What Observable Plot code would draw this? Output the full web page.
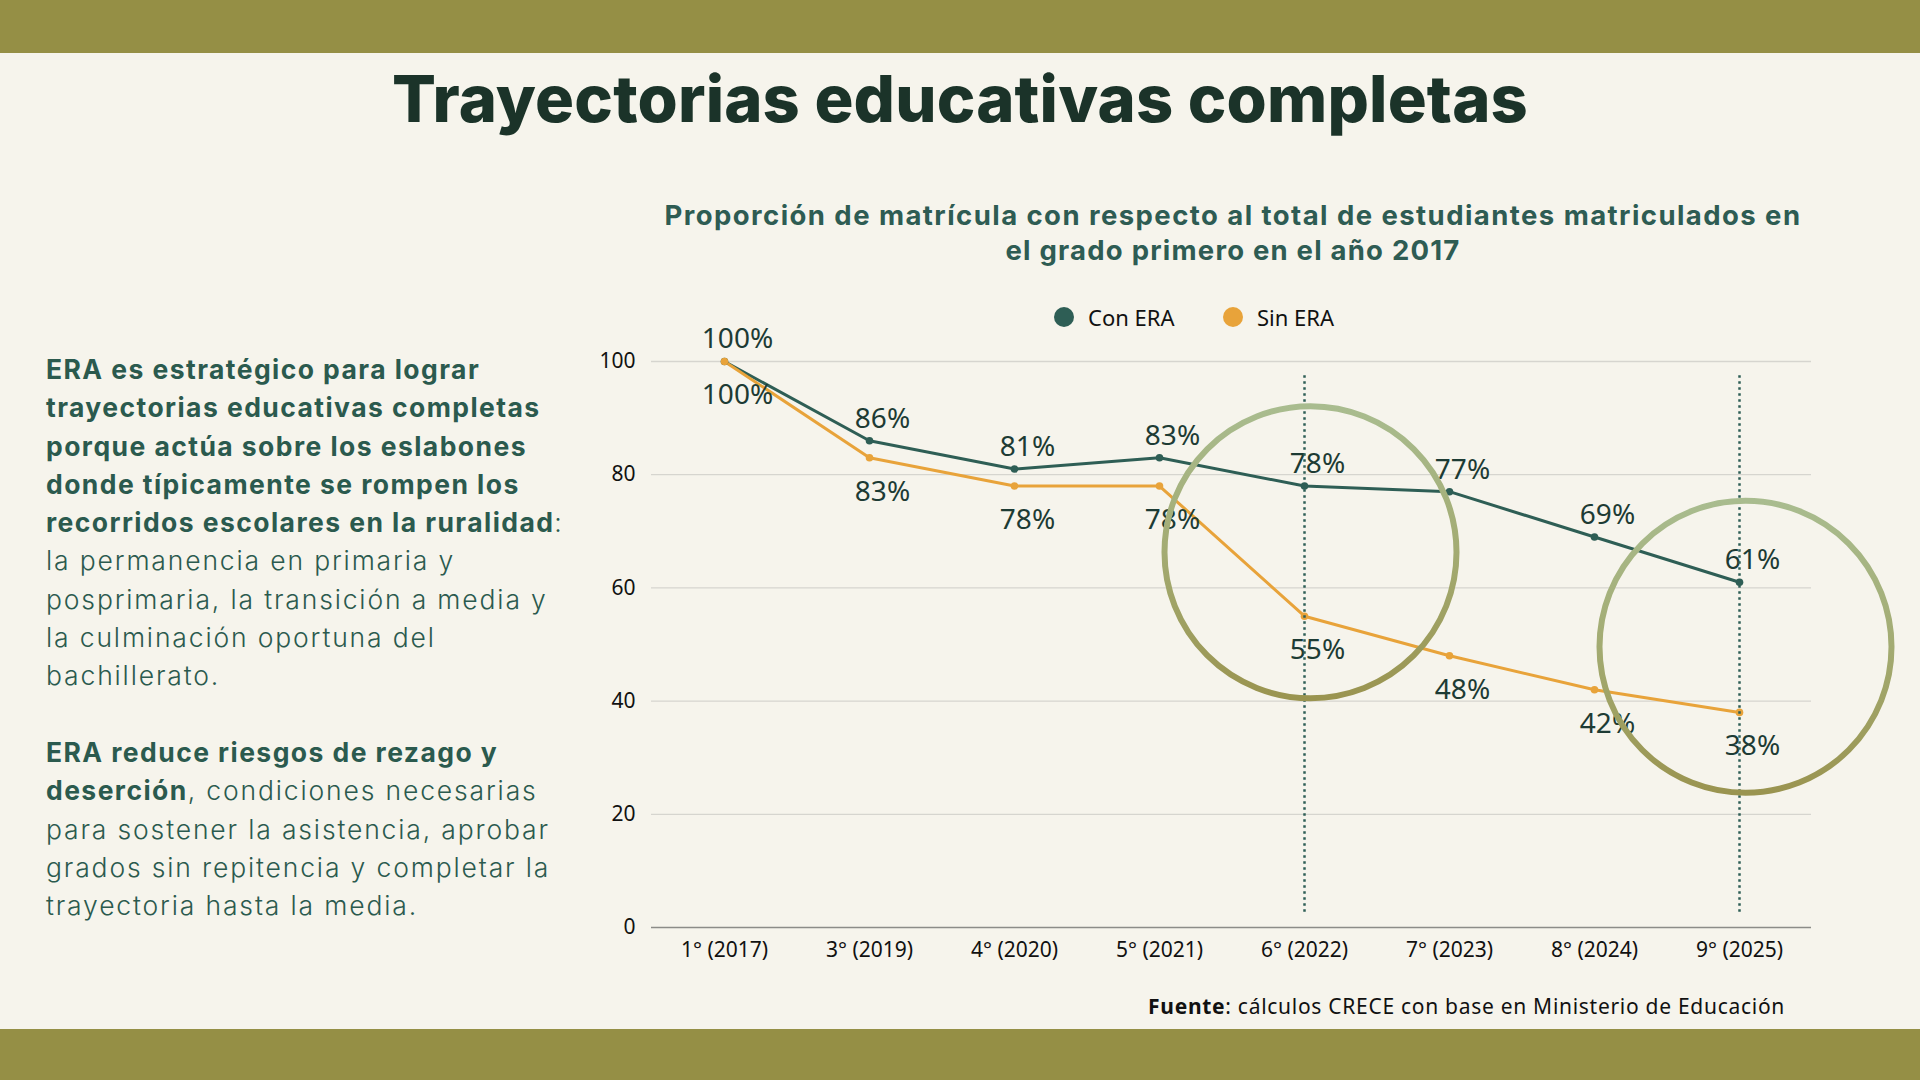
<!DOCTYPE html>
<html lang="es">
<head>
<meta charset="utf-8">
<script src="https://cdn.jsdelivr.net/npm/d3@7"></script>
<script src="https://cdn.jsdelivr.net/npm/@observablehq/plot@0.6"></script>
<style>
  html, body { margin: 0; padding: 0; }
  body { width: 1920px; height: 1080px; background: #f6f4ec; position: relative; overflow: hidden; font-family: "Noto Sans", sans-serif; }
  .band { position: absolute; left: 0; width: 1920px; background: #958f45; }
  #title { position: absolute; left: 0; width: 1920px; top: 66px; text-align: center; font-family: Inter, sans-serif; font-weight: 800; font-size: 65px; line-height: 66px; color: #1b3329; white-space: nowrap; }
  #title span, .sub span { display: inline-block; }
  .sub { position: absolute; left: 0; width: 2466px; text-align: center; font-family: Inter, sans-serif; font-weight: 700; font-size: 27.5px; line-height: 35px; color: #2e5c53; white-space: nowrap; }
  #left { position: absolute; left: 46px; top: 350px; font-family: Inter, sans-serif; font-size: 26.5px; line-height: 38.3px; color: #2b5a4e; white-space: nowrap; }
  #left b { font-weight: 700; }
  #left .r { font-weight: 300; }
  #legend { position: absolute; top: 302px; left: 0; height: 30px; width: 1920px; }
  .lg { position: absolute; top: 0; height: 30px; display: flex; align-items: center; font-size: 22px; color: #111; }
  .lg i { display: inline-block; width: 20px; height: 20px; border-radius: 50%; margin-right: 14px; }
  #chart { position: absolute; left: 560px; top: 290px; }
  #chart svg { overflow: visible; }
  #foot { position: absolute; right: 135px; top: 996px; font-size: 21px; line-height: 21px; color: #111; white-space: nowrap; }
  #foot span { display: inline-block; }
</style>
</head>
<body>
<div class="band" style="top:0;height:53px"></div>
<div class="band" style="top:1029px;height:51px"></div>
<div id="title"><span data-fit="1136">Trayectorias educativas completas</span></div>
<div class="sub" style="top:198px"><span data-fit="1137">Proporción de matrícula con respecto al total de estudiantes matriculados en</span></div>
<div class="sub" style="top:233px"><span data-fit="455">el grado primero en el año 2017</span></div>
<div id="left"></div>
<div id="legend"></div>
<div id="chart"></div>
<div id="foot"><span data-fit="637"><b>Fuente</b>: cálculos CRECE con base en Ministerio de Educación</span></div>

<script>
// ---- Data ----
const categories = ["1° (2017)", "3° (2019)", "4° (2020)", "5° (2021)", "6° (2022)", "7° (2023)", "8° (2024)", "9° (2025)"];
const conERA = [100, 86, 81, 83, 78, 77, 69, 61];
const sinERA = [100, 83, 78, 78, 55, 48, 42, 38];
const seriesNames = ["Con ERA", "Sin ERA"];
const seriesColors = ["#2e5e55", "#e8a33a"];
const yTicks = [0, 20, 40, 60, 80, 100];
const highlightCategories = ["6° (2022)", "9° (2025)"];
const highlightRuleTop = [97.5, 97.5];
const highlightRuleBottom = [2.7, 2.7];
const highlightCircleCenter = [66.3, 49.6];

const leftLines = [
  ["ERA es estratégico para lograr", ""],
  ["trayectorias educativas completas", ""],
  ["porque actúa sobre los eslabones", ""],
  ["donde típicamente se rompen los", ""],
  ["recorridos escolares en la ruralidad", ":"],
  ["", "la permanencia en primaria y"],
  ["", "posprimaria, la transición a media y"],
  ["", "la culminación oportuna del"],
  ["", "bachillerato."],
  ["", ""],
  ["ERA reduce riesgos de rezago y", ""],
  ["deserción", ", condiciones necesarias"],
  ["", "para sostener la asistencia, aprobar"],
  ["", "grados sin repitencia y completar la"],
  ["", "trayectoria hasta la media."]
];

// ---- Left text ----
const left = document.getElementById("left");
leftLines.forEach(([b, r], i) => {
  const line = document.createElement("div");
  line.style.height = "38.3px";
  if (b) { const el = document.createElement("b"); el.textContent = b; line.appendChild(el); if (i === 1) el.id = "boldSample"; }
  if (r) { const el = document.createElement("span"); el.className = "r"; el.textContent = r; line.appendChild(el); if (i === 5) el.id = "regSample"; }
  if (!b && !r) line.innerHTML = "&nbsp;";
  left.appendChild(line);
});

// ---- Legend ----
const legend = document.getElementById("legend");
const legendX = [1054, 1223];
seriesNames.forEach((name, i) => {
  const d = document.createElement("div");
  d.className = "lg";
  d.style.left = legendX[i] + "px";
  d.innerHTML = `<i style="background:${seriesColors[i]}"></i>${name}`;
  legend.appendChild(d);
});

// ---- Chart ----
const rows = categories.flatMap((c, i) => [
  {cat: c, series: seriesNames[0], value: conERA[i]},
  {cat: c, series: seriesNames[1], value: sinERA[i]}
]);
const conRows = rows.filter(d => d.series === seriesNames[0]);
const sinRows = rows.filter(d => d.series === seriesNames[1]);
const highlights = highlightCategories.map((c, i) => ({cat: c, top: highlightRuleTop[i], bottom: highlightRuleBottom[i], center: highlightCircleCenter[i]}));

const defs = () => {
  const g = document.createElementNS("http://www.w3.org/2000/svg", "defs");
  g.innerHTML = `<linearGradient id="ringGrad" x1="0" y1="0" x2="0" y2="1">
    <stop offset="0" stop-color="#a9bc8f"/><stop offset="0.5" stop-color="#a3ab72"/><stop offset="1" stop-color="#9a9450"/></linearGradient>`;
  return g;
};

const chart = Plot.plot({
  width: 1360,
  height: 687,
  marginLeft: 91,
  marginRight: 109,
  marginTop: 71,
  marginBottom: 50,
  style: {background: "transparent", fontFamily: "'Noto Sans', sans-serif", fontSize: "21px", color: "#111"},
  x: {type: "point", domain: categories, padding: 0.5, label: null, tickSize: 0, tickPadding: 15},
  y: {domain: [0, 100], ticks: yTicks, label: null, tickSize: 0, tickPadding: 16},
  color: {domain: seriesNames, range: seriesColors},
  marks: [
    defs,
    Plot.ruleY(yTicks.filter(d => d > 0), {stroke: "#d6d5cf", strokeWidth: 1.3}),
    Plot.ruleY([0], {stroke: "#8c8c88", strokeWidth: 1.3}),
    Plot.line(rows, {x: "cat", y: "value", z: "series", stroke: "series", strokeWidth: 3}),
    Plot.dot(rows, {x: "cat", y: "value", fill: "series", r: 3.8}),
    Plot.text(conRows, {x: "cat", y: "value", text: d => d.value + "%", dx: 13, dy: -22, fontSize: 28, fill: "#1d3b34"}),
    Plot.text(sinRows, {x: "cat", y: "value", text: d => d.value + "%", dx: 13, dy: 34, fontSize: 28, fill: "#1d3b34"}),
    Plot.ruleX(highlights, {x: "cat", y1: "top", y2: "bottom", stroke: "#2e5e55", strokeWidth: 2.5, strokeDasharray: "2.5,3.5"}),
    Plot.dot(highlights, {x: "cat", y: "center", r: 146, dx: 6, fill: "none", stroke: "url(#ringGrad)", strokeWidth: 6})
  ]
});
document.getElementById("chart").appendChild(chart);

// ---- Fit text widths (letter-spacing only) ----
function fit(el, target) {
  const n = el.textContent.length;
  el.style.letterSpacing = "0px";
  const w = el.getBoundingClientRect().width;
  el.style.letterSpacing = ((target - w) / n) + "px";
}
document.querySelectorAll("[data-fit]").forEach(el => fit(el, +el.dataset.fit));
(function () {
  const bs = document.getElementById("boldSample"), rs = document.getElementById("regSample");
  bs.style.display = "inline-block"; rs.style.display = "inline-block";
  const bw = bs.getBoundingClientRect().width, rw = rs.getBoundingClientRect().width;
  const lsB = (494.6 - bw) / bs.textContent.length, lsR = (409 - rw) / rs.textContent.length;
  bs.style.display = ""; rs.style.display = "";
  document.querySelectorAll("#left b").forEach(e => e.style.letterSpacing = lsB + "px");
  document.querySelectorAll("#left .r").forEach(e => e.style.letterSpacing = lsR + "px");
})();
</script>
</body>
</html>
